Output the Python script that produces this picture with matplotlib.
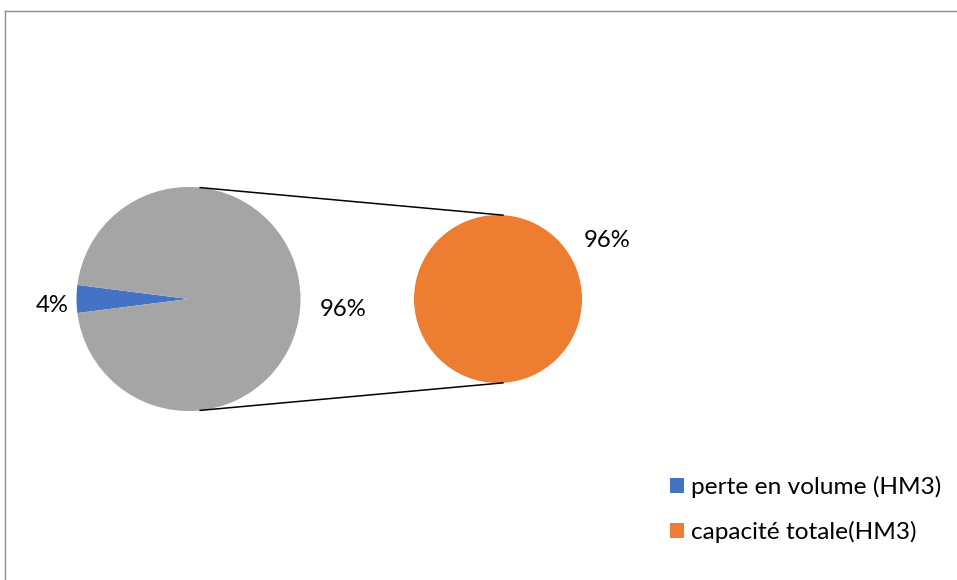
import matplotlib.pyplot as plt
import numpy as np
from matplotlib.patches import Patch
from matplotlib.lines import Line2D

plt.rcParams['font.family'] = ['Lato', 'DejaVu Sans']

# series
labels = ['perte en volume (HM3)', 'capacité totale(HM3)']
values = [4, 96]
colors = ['#4472C4', '#ED7D31']
other_color = '#A5A5A5'

W, H = 957, 580
fig = plt.figure(figsize=(W / 100, H / 100), dpi=100)
ax = fig.add_axes([0, 0, 1, 1])

total = sum(values)
pct = [v / total for v in values]

# main pie: small slice on the left, the rest grouped as "other"
c1, r1 = (188.5, H - 299), 112
start = 180 - pct[0] * 360 / 2
ax.pie([values[0], values[1]], colors=[colors[0], other_color],
       startangle=start, center=c1, radius=r1, frame=True,
       wedgeprops=dict(linewidth=0))

# secondary pie: the "other" part broken out
c2, r2 = (498, H - 299), 84
ax.pie([values[1]], colors=[colors[1]], startangle=90, center=c2, radius=r2,
       frame=True, wedgeprops=dict(linewidth=0))
ax.set_xlim(0, W)
ax.set_ylim(0, H)
ax.set_aspect('equal')
ax.axis('off')

# connector lines between the two pies
for sgn in (1, -1):
    a1 = np.deg2rad(sgn * 84)
    a2 = np.deg2rad(sgn * 86.6)
    p1 = (c1[0] + r1 * np.cos(a1), c1[1] + r1 * np.sin(a1))
    p2 = (c2[0] + r2 * np.cos(a2), c2[1] + r2 * np.sin(a2))
    ax.plot([p1[0], p2[0]], [p1[1], p2[1]], color='black', lw=1.1)

fs = 17.2
ax.text(c1[0] - r1 - 24, c1[1] - 13, f'{pct[0]:.0%}', ha='center', va='baseline', fontsize=fs)
ax.text(c1[0] + 155, c1[1] - 17, f'{pct[1]:.0%}', ha='center', va='baseline', fontsize=fs)
ax.text(c2[0] + 109, c2[1] + 52, f'{pct[1]:.0%}', ha='center', va='baseline', fontsize=fs)

handles = [Patch(facecolor=c, edgecolor='none') for c in colors]
ax.legend(handles, labels, loc='upper left', bbox_to_anchor=(670 / W, 1 - 476 / H),
          frameon=False, fontsize=17.6, handlelength=0.57, handleheight=0.57,
          handletextpad=0.28, labelspacing=0.93, borderaxespad=0, borderpad=0)

# chart area border (top and left edges)
fig.add_artist(Line2D([5 / W, 1], [1 - 11 / H, 1 - 11 / H], color='#8c8c8c', lw=1))
fig.add_artist(Line2D([5 / W, 5 / W], [0, 1 - 11 / H], color='#8c8c8c', lw=1))

fig.savefig('out.png', dpi=100)
